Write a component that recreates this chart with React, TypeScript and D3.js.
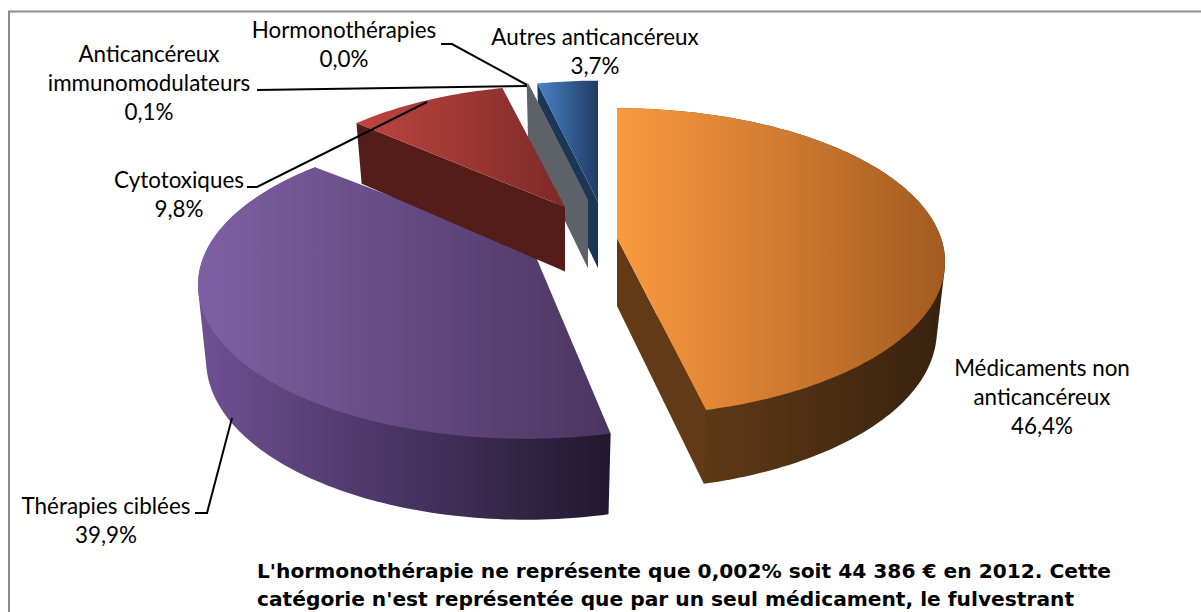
import React from "react";
import * as d3 from "d3";

const categories = ["Médicaments non anticancéreux", "Thérapies ciblées", "Cytotoxiques", "Anticancéreux immunomodulateurs", "Hormonothérapies", "Autres anticancéreux"];
const values = [46.4, 39.9, 9.8, 0.1, 0.002, 3.7];
const percentLabels = ["46,4%", "39,9%", "9,8%", "0,1%", "0,0%", "3,7%"];
const noteLines = [
  "L'hormonothérapie ne représente que 0,002% soit 44 386 € en 2012. Cette",
  "catégorie n'est représentée que par un seul médicament, le fulvestrant",
];

// projection of the tilted disc
const K = 0.156, RX = 324, RY = 150;
const project = (theta: number, s: number) => {
  const u = Math.sin(theta), v = -Math.cos(theta), w = 1 - K * v;
  return [(RX * s * u) / w, (RY * s * v) / w];
};

const pie = d3.pie<number>().sort(null).value((d) => d).startAngle(0).endAngle(2 * Math.PI)(values);

// layout per slice: apex, radial scale, wall depth, colours; cutSide = which straight side shows its face
const layout = [
  { ax: 617, ay: 238, tipX: 0, tipY: 0, s: 1, depth: 74, trim: 0.012, cutSide: "end", wallOn: true, top: ["#fb9a3f", "#a35b20"], wall: ["#6c4118", "#38220f"], cut: "#623a16" },
  { ax: 526, ay: 261, tipX: 7, tipY: -11, s: 1, depth: 81, trim: -0.05, cutSide: "", wallOn: true, top: ["#7f5fa4", "#4b3560"], wall: ["#6e5094", "#21182f"], cut: "#3a2a4e" },
  { ax: 565, ay: 207, tipX: 0, tipY: 0, s: 0.94, depth: 70, trim: 0, cutSide: "start", wallOn: false, top: ["#bf4540", "#7c2a28"], wall: ["#541d19", "#541d19"], cut: "#541d19" },
  { ax: 588, ay: 200, tipX: 0, tipY: 0, s: 0.92, depth: 74, trim: 0, cutSide: "start", wallOn: false, top: ["#8d959b", "#8d959b"], wall: ["#5c6268", "#5c6268"], cut: "#5c6268" },
  { ax: 588, ay: 200, tipX: 0, tipY: 0, s: 0.92, depth: 74, trim: 0, cutSide: "start", wallOn: false, top: ["#8d959b", "#8d959b"], wall: ["#5c6268", "#5c6268"], cut: "#5c6268" },
  { ax: 598, ay: 202, tipX: 0, tipY: 0, s: 0.935, depth: 72, trim: 0, cutSide: "start", wallOn: false, top: ["#4a82c6", "#1f3c64"], wall: ["#1c3655", "#1c3655"], cut: "#1c3655" },
];
const paintOrder = [0, 5, 3, 4, 1, 2];
const LOW_SCALE = 0.975;
const DEPTH_FALLOFF = 0.08;

const line = d3.line();

const angleSteps = (a0: number, a1: number) => {
  const n = Math.max(2, Math.ceil(Math.abs(a1 - a0) / 0.02));
  return d3.range(n + 1).map((i) => a0 + ((a1 - a0) * i) / n);
};

const rim = (a0: number, a1: number, ax: number, ay: number, s: number) =>
  angleSteps(a0, a1).map((t) => {
    const [x, y] = project(t, s);
    return [ax + x, ay + y] as [number, number];
  });

const labelStyle: React.CSSProperties = { fontFamily: "Lato, Carlito, sans-serif", fontSize: 22.4, fill: "#000" };

const labels = [
  { x: 1042, y: 376, lines: [categories[0].slice(0, 15), categories[0].slice(16), percentLabels[0]] },
  { x: 106, y: 514, lines: [categories[1], percentLabels[1]] },
  { x: 179, y: 188, lines: [categories[2], percentLabels[2]] },
  { x: 149, y: 62, lines: ["Anticancéreux", "immunomodulateurs", percentLabels[3]] },
  { x: 344, y: 38, lines: [categories[4], percentLabels[4]] },
  { x: 595, y: 45, lines: [categories[5], percentLabels[5]] },
];

const leaders: [number, number][][] = [
  [[195, 513], [207, 513], [232, 418]],
  [[247, 187], [257, 187], [427, 102]],
  [[257, 90], [527, 86]],
  [[441, 44], [452, 44], [527, 85]],
];

export default function App() {
  return (
    <svg width={1201} height={612} style={{ position: "absolute", left: 0, top: 0, background: "#fff" }}>
      <defs>
        {layout.map((l, i) => {
          const pts = rim(pie[i].startAngle, pie[i].endAngle - l.trim, l.ax, l.ay, l.s);
          const xs = [...pts.map((p) => p[0]), l.ax];
          const x1 = d3.min(xs)!, x2 = d3.max(xs)!;
          return (
            <g key={i}>
              <linearGradient id={`top${i}`} gradientUnits="userSpaceOnUse" x1={x1} x2={x2} y1={0} y2={0}>
                <stop offset="0" stopColor={l.top[0]} />
                <stop offset="1" stopColor={l.top[1]} />
              </linearGradient>
              <linearGradient id={`wall${i}`} gradientUnits="userSpaceOnUse" x1={x1} x2={x2} y1={0} y2={0}>
                <stop offset="0" stopColor={l.wall[0]} />
                <stop offset="1" stopColor={l.wall[1]} />
              </linearGradient>
            </g>
          );
        })}
      </defs>
      <rect x={9} y={11.5} width={1300} height={640} fill="#fff" stroke="#8c8c8c" strokeWidth={2} />
      {paintOrder.map((i) => {
        const l = layout[i];
        const a0 = pie[i].startAngle, a1 = pie[i].endAngle - l.trim;
        const top = rim(a0, a1, l.ax, l.ay, l.s);
        const low = angleSteps(a0, a1).map((t, k) => {
          const v = -Math.cos(t);
          const [x, y] = top[k];
          return [l.ax + (x - l.ax) * LOW_SCALE, y + l.depth * (1 - DEPTH_FALLOFF * (1 - v))] as [number, number];
        });
        const apex: [number, number] = [l.ax + l.tipX, l.ay + l.tipY];
        const apexLow: [number, number] = [l.ax, l.ay + l.depth * (1 - DEPTH_FALLOFF)];
        const edge = l.cutSide === "end" ? [top[top.length - 1], low[low.length - 1]] : [top[0], low[0]];
        const hull = d3.polygonHull([...top, ...low]);
        return (
          <g key={i}>
            {l.wallOn && hull && <path d={line(hull)! + "Z"} fill={`url(#wall${i})`} />}
            {l.cutSide && <path d={line([apex, edge[0], edge[1], apexLow])! + "Z"} fill={l.cut} />}
            <path d={line([apex, ...top])! + "Z"} fill={`url(#top${i})`} />
          </g>
        );
      })}
      {leaders.map((pts, i) => (
        <path key={i} d={line(pts)!} fill="none" stroke="#000" strokeWidth={2} />
      ))}
      {labels.map((lab, i) => (
        <text key={i} textAnchor="middle" style={labelStyle}>
          {lab.lines.map((t, j) => (
            <tspan key={j} x={lab.x} y={lab.y + j * 29}>{t}</tspan>
          ))}
        </text>
      ))}
      {noteLines.map((t, i) => (
        <text key={i} x={257} y={578 + i * 28} style={{ fontFamily: "'DejaVu Sans', Verdana, sans-serif", fontWeight: 700, fontSize: 20.2, fill: "#000" }}>{t}</text>
      ))}
    </svg>
  );
}
